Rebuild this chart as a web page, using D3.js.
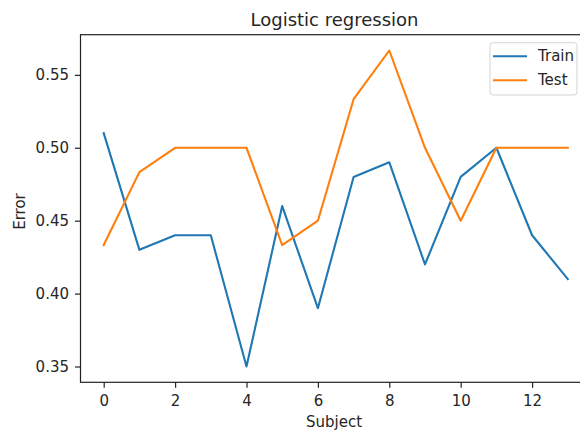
<!DOCTYPE html>
<html lang="en">
<head>
<meta charset="UTF-8">
<title>Logistic regression</title>
<style>
    body {
        margin: 0;
        padding: 0;
        background-color: #fff;
    }
    svg text {
        font-family: "DejaVu Sans", sans-serif;
        fill: #262626;
    }
</style>
</head>
<body>
<svg id="chart" width="580" height="434"></svg>

<script src="https://d3js.org/d3.v7.min.js"></script>
<script>
    // data
    var subjects = [0, 1, 2, 3, 4, 5, 6, 7, 8, 9, 10, 11, 12, 13];
    var trainErr = [0.51, 0.43, 0.44, 0.44, 0.35, 0.46, 0.39, 0.48, 0.49, 0.42, 0.48, 0.50, 0.44, 0.41];
    var testErr = [0.4333, 0.4833, 0.5, 0.5, 0.5, 0.4333, 0.45, 0.5333, 0.5667, 0.5, 0.45, 0.5, 0.5, 0.5];
    var xTicks = [0, 2, 4, 6, 8, 10, 12];
    var yTicks = [0.35, 0.40, 0.45, 0.50, 0.55];
    var seriesNames = ["Train", "Test"];
    var colors = ["#1f77b4", "#ff7f0e"];

    const svg = d3.select("#chart");
    const fs = 15;

    // matplotlib style 5% margins
    const xMin = d3.min(subjects), xMax = d3.max(subjects);
    const allY = trainErr.concat(testErr);
    const yMin = d3.min(allY), yMax = d3.max(allY);
    const xPad = (xMax - xMin) * 0.05, yPad = (yMax - yMin) * 0.05;

    // plot area (right spine falls outside the picture)
    const axLeft = 80.5, axRight = 591, axTop = 34.7, axBottom = 382.3;

    const xScale = d3.scaleLinear()
        .domain([xMin - xPad, xMax + xPad])
        .range([axLeft, axRight]);
    const yScale = d3.scaleLinear()
        .domain([yMin - yPad, yMax + yPad])
        .range([axBottom, axTop]);

    // lines
    const line = d3.line()
        .x((d, i) => xScale(subjects[i]))
        .y(d => yScale(d));

    [trainErr, testErr].forEach(function(vals, k) {
        svg.append("path")
            .datum(vals)
            .attr("d", line)
            .attr("fill", "none")
            .attr("stroke", colors[k])
            .attr("stroke-width", 2.1)
            .attr("stroke-linejoin", "round")
            .attr("stroke-linecap", "square");
    });

    // axes
    const xAxis = d3.axisBottom(xScale)
        .tickValues(xTicks)
        .tickFormat(d3.format("d"))
        .tickSize(5.5)
        .tickPadding(7.5);
    const yAxis = d3.axisLeft(yScale)
        .tickValues(yTicks)
        .tickFormat(d3.format(".2f"))
        .tickSize(5.5)
        .tickPadding(6);

    const gx = svg.append("g")
        .attr("transform", "translate(0," + axBottom + ")")
        .call(xAxis);
    const gy = svg.append("g")
        .attr("transform", "translate(" + axLeft + ",0)")
        .call(yAxis);

    [gx, gy].forEach(function(g) {
        g.select(".domain").remove();
        g.selectAll(".tick line").attr("stroke", "#222").attr("stroke-width", 1.2);
        g.selectAll(".tick text")
            .attr("font-size", fs)
            .attr("font-family", "DejaVu Sans, sans-serif")
            .attr("fill", "#262626");
    });

    // spines
    svg.append("rect")
        .attr("x", axLeft)
        .attr("y", axTop)
        .attr("width", axRight - axLeft)
        .attr("height", axBottom - axTop)
        .attr("fill", "none")
        .attr("stroke", "#222")
        .attr("stroke-width", 1.2);

    // title and labels
    svg.append("text")
        .attr("x", 334.5)
        .attr("y", 26)
        .attr("text-anchor", "middle")
        .attr("font-size", 18)
        .text("Logistic regression");

    svg.append("text")
        .attr("x", 334)
        .attr("y", 427)
        .attr("text-anchor", "middle")
        .attr("font-size", fs)
        .text("Subject");

    svg.append("text")
        .attr("transform", "translate(25," + ((axTop + axBottom) / 2 + 3) + ") rotate(-90)")
        .attr("text-anchor", "middle")
        .attr("font-size", fs)
        .text("Error");

    // legend
    const lg = svg.append("g").attr("transform", "translate(490,42.7)");
    lg.append("rect")
        .attr("width", 87)
        .attr("height", 52.3)
        .attr("rx", 3)
        .attr("fill", "#fff")
        .attr("fill-opacity", 0.8)
        .attr("stroke", "#d5d5d5")
        .attr("stroke-width", 1);

    seriesNames.forEach(function(name, k) {
        const y = 13.5 + k * 24;
        lg.append("line")
            .attr("x1", 3)
            .attr("x2", 37)
            .attr("y1", y)
            .attr("y2", y)
            .attr("stroke", colors[k])
            .attr("stroke-width", 2.1);
        lg.append("text")
            .attr("x", 48)
            .attr("y", y + 5.3)
            .attr("font-size", fs)
            .text(name);
    });
</script>
</body>
</html>
